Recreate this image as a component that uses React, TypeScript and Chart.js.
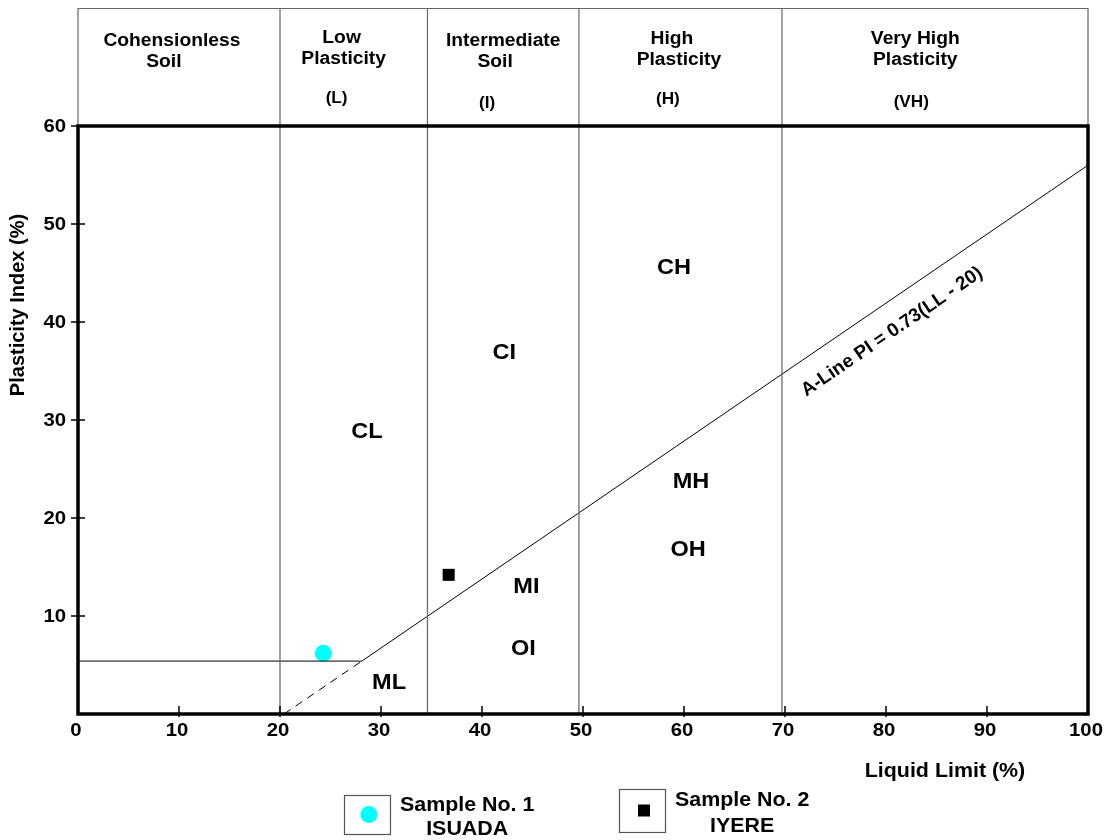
import React, { useEffect, useRef } from "react";
import { Chart, registerables } from "chart.js";

Chart.register(...registerables);

// ---------- data ----------
const xTicks = [0, 10, 20, 30, 40, 50, 60, 70, 80, 90, 100];
const yTicks = [10, 20, 30, 40, 50, 60];

// plasticity zone boundaries (Liquid Limit %)
const zoneBoundaries = [20, 34.6, 49.6, 69.7];

// header zone titles
const headerLine1 = ["Cohensionless", "Low", "Intermediate", "High", "Very High"];
const headerLine2 = ["Soil", "Plasticity", "Soil", "Plasticity", "Plasticity"];
const headerCodes = ["", "(L)", "(I)", "(H)", "(VH)"];

// region labels
const regionNames = ["CL", "CI", "CH", "MH", "OH", "MI", "OI", "ML"];
const regionLL = [28.6, 42.2, 59.0, 60.7, 60.4, 44.4, 44.1, 30.8];
const regionPI = [28.8, 36.8, 45.5, 23.7, 16.7, 13.0, 6.6, 3.2];

// A-line and lower boundaries
const aLineLL = [28.1, 100];
const aLinePI = [5.4, 56.0];
const flatLL = [0, 28.1];
const flatPI = [5.4, 5.4];
const dashLL = [20.4, 28.1];
const dashPI = [0, 5.4];
const aLineLabel = "A-Line PI = 0.73(LL - 20)";
const aLineLabelLL = 80.6;
const aLineLabelPI = 39.0;

// samples
const sampleNames = ["Sample No. 1", "Sample No. 2"];
const sampleSites = ["ISUADA", "IYERE"];
const sampleLL = [24.3, 36.7];
const samplePI = [6.2, 14.2];
const sampleColors = ["#00FFFF", "#000000"];
const sampleStyles = ["circle", "rect"];

// ---------- layout constants (pixels) ----------
const W = 1110;
const H = 840;
const PLOT_LEFT = 78;
const PLOT_RIGHT = 1088;
const PLOT_TOP = 126;
const PLOT_BOTTOM = 714;
const HEADER_TOP = 8;
const FONT = '"Liberation Sans", Arial, Helvetica, sans-serif';
const SX = 1.07;

// header text placement (LL centre and pixel y)
const headerLine1X = [9.3, 26.1, 42.1, 58.8, 82.9];
const headerLine2X = [8.5, 26.3, 41.3, 59.5, 82.9];
const headerCodeX = [0, 25.6, 40.5, 58.4, 82.5];
const headerLine1Y = [41, 38, 41, 39, 39];
const headerLine2Y = [62, 59, 62, 60, 60];
const headerCodeY = [0, 99, 104, 100, 103];

function txt(
  ctx: CanvasRenderingContext2D,
  s: string,
  x: number,
  y: number,
  size: number,
  align: CanvasTextAlign = "center",
  sx: number = SX
) {
  ctx.save();
  ctx.font = `bold ${size}px ${FONT}`;
  ctx.fillStyle = "#000";
  ctx.textAlign = align;
  ctx.textBaseline = "middle";
  ctx.translate(x, y);
  ctx.scale(sx, 1);
  ctx.fillText(s, 0, 0);
  ctx.restore();
}

const overlayPlugin = {
  id: "plasticityOverlay",
  afterDraw(chart: any) {
    const ctx: CanvasRenderingContext2D = chart.ctx;
    const xs = chart.scales.x;
    const ys = chart.scales.y;
    const { left, right, top, bottom } = chart.chartArea;

    ctx.save();
    // header frame
    ctx.strokeStyle = "#666";
    ctx.lineWidth = 1.2;
    ctx.beginPath();
    ctx.moveTo(left, HEADER_TOP + 0.5);
    ctx.lineTo(right, HEADER_TOP + 0.5);
    ctx.moveTo(left, HEADER_TOP);
    ctx.lineTo(left, top);
    ctx.moveTo(right, HEADER_TOP);
    ctx.lineTo(right, top);
    zoneBoundaries.forEach((b) => {
      const px = xs.getPixelForValue(b);
      ctx.moveTo(px, HEADER_TOP);
      ctx.lineTo(px, top);
    });
    ctx.stroke();

    // header texts
    headerLine1.forEach((t, i) => {
      txt(ctx, t, xs.getPixelForValue(headerLine1X[i]), headerLine1Y[i], 18);
      txt(ctx, headerLine2[i], xs.getPixelForValue(headerLine2X[i]), headerLine2Y[i], 18);
      if (headerCodes[i]) {
        txt(ctx, headerCodes[i], xs.getPixelForValue(headerCodeX[i]), headerCodeY[i], 16);
      }
    });

    // plot frame
    ctx.strokeStyle = "#000";
    ctx.lineWidth = 3.5;
    ctx.strokeRect(left, top, right - left, bottom - top);

    // tick marks
    ctx.lineWidth = 1.5;
    ctx.beginPath();
    yTicks.forEach((v) => {
      const py = ys.getPixelForValue(v);
      ctx.moveTo(left - 7, py);
      ctx.lineTo(left + 7, py);
    });
    xTicks.forEach((v) => {
      if (v === 0 || v === 100) return;
      const px = xs.getPixelForValue(v);
      ctx.moveTo(px, bottom - 8);
      ctx.lineTo(px, bottom + 3);
    });
    ctx.stroke();

    // tick labels
    yTicks.forEach((v) => {
      txt(ctx, String(v), left - 12, ys.getPixelForValue(v) + 1, 19, "right");
    });
    xTicks.forEach((v) => {
      txt(ctx, String(v), xs.getPixelForValue(v) - 2, bottom + 17, 19, "center");
    });

    // axis titles
    ctx.save();
    ctx.translate(18, 305);
    ctx.rotate(-Math.PI / 2);
    ctx.font = `bold 20px ${FONT}`;
    ctx.fillStyle = "#000";
    ctx.textAlign = "center";
    ctx.textBaseline = "middle";
    ctx.fillText("Plasticity Index (%)", 0, 0);
    ctx.restore();
    txt(ctx, "Liquid Limit (%)", 945, 771, 20, "center");

    // region labels
    regionNames.forEach((n, i) => {
      txt(ctx, n, xs.getPixelForValue(regionLL[i]), ys.getPixelForValue(regionPI[i]), 22);
    });

    // A-line label
    const x1 = xs.getPixelForValue(aLineLL[0]);
    const y1 = ys.getPixelForValue(aLinePI[0]);
    const x2 = xs.getPixelForValue(aLineLL[1]);
    const y2 = ys.getPixelForValue(aLinePI[1]);
    const ang = Math.atan2(y2 - y1, x2 - x1);
    ctx.save();
    ctx.translate(xs.getPixelForValue(aLineLabelLL), ys.getPixelForValue(aLineLabelPI));
    ctx.rotate(ang);
    ctx.font = `bold 19px ${FONT}`;
    ctx.fillStyle = "#000";
    ctx.textAlign = "center";
    ctx.textBaseline = "middle";
    ctx.fillText(aLineLabel, 0, 0);
    ctx.restore();

    // legend
    const boxes = [
      { x: 344, y: 795, w: 46, h: 39, tx: 400, ty1: 805, ty2: 829 },
      { x: 619, y: 789, w: 46, h: 43, tx: 675, ty1: 800, ty2: 826 },
    ];
    boxes.forEach((b, i) => {
      ctx.strokeStyle = "#555";
      ctx.lineWidth = 1.2;
      ctx.strokeRect(b.x + 0.5, b.y + 0.5, b.w, b.h);
      const cx = b.x + b.w / 2 + 2;
      const cy = b.y + b.h / 2;
      ctx.fillStyle = sampleColors[i];
      if (sampleStyles[i] === "circle") {
        ctx.beginPath();
        ctx.arc(cx, cy, 8.5, 0, Math.PI * 2);
        ctx.fill();
      } else {
        ctx.fillRect(cx - 6, cy - 6, 12, 12);
      }
      txt(ctx, sampleNames[i], b.tx, b.ty1, 20, "left");
      ctx.save();
      ctx.font = `bold 20px ${FONT}`;
      const wName = ctx.measureText(sampleNames[i]).width * SX;
      ctx.restore();
      txt(ctx, sampleSites[i], b.tx + wName / 2, b.ty2, 20, "center");
    });

    ctx.restore();
  },
};

export default function App() {
  const ref = useRef<HTMLCanvasElement | null>(null);

  useEffect(() => {
    if (!ref.current) return;
    const lineDs = (xsArr: number[], ysArr: number[], color: string, width: number, dash: number[] = []) => ({
      type: "line" as const,
      data: xsArr.map((x, i) => ({ x, y: ysArr[i] })),
      borderColor: color,
      borderWidth: width,
      borderDash: dash,
      pointRadius: 0,
      showLine: true,
      fill: false,
      tension: 0,
    });

    const datasets: any[] = [
      ...zoneBoundaries.map((b) => lineDs([b, b], [0, 60], "#6b6b6b", 1.3)),
      lineDs(flatLL, flatPI, "#000", 1),
      lineDs(aLineLL, aLinePI, "#000", 1),
      lineDs(dashLL, dashPI, "#000", 1, [8, 6]),
      ...sampleNames.map((n, i) => ({
        type: "scatter" as const,
        label: n,
        data: [{ x: sampleLL[i], y: samplePI[i] }],
        pointStyle: sampleStyles[i],
        pointRadius: 8.5,
        pointBorderWidth: 0,
        pointBackgroundColor: sampleColors[i],
        backgroundColor: sampleColors[i],
        borderColor: sampleColors[i],
        borderWidth: 0,
      })),
    ];

    const chart = new Chart(ref.current, {
      type: "scatter",
      data: { datasets },
      options: {
        responsive: false,
        animation: false,
        devicePixelRatio: 1,
        layout: { padding: { top: PLOT_TOP, right: W - PLOT_RIGHT, left: 0, bottom: 0 } },
        plugins: { legend: { display: false }, tooltip: { enabled: false } },
        scales: {
          x: {
            type: "linear",
            min: 0,
            max: 100,
            grid: { display: false, drawTicks: false },
            border: { display: false },
            ticks: { display: false, stepSize: 10 },
            afterFit: (s: any) => {
              s.height = H - PLOT_BOTTOM;
            },
          },
          y: {
            type: "linear",
            min: 0,
            max: 60,
            grid: { display: false, drawTicks: false },
            border: { display: false },
            ticks: { display: false, stepSize: 10 },
            afterFit: (s: any) => {
              s.width = PLOT_LEFT;
            },
          },
        },
      } as any,
      plugins: [overlayPlugin],
    });
    return () => chart.destroy();
  }, []);

  return (
    <div style={{ position: "fixed", left: 0, top: 0, width: W, height: H, background: "#fff" }}>
      <canvas ref={ref} width={W} height={H} style={{ display: "block" }} />
    </div>
  );
}
